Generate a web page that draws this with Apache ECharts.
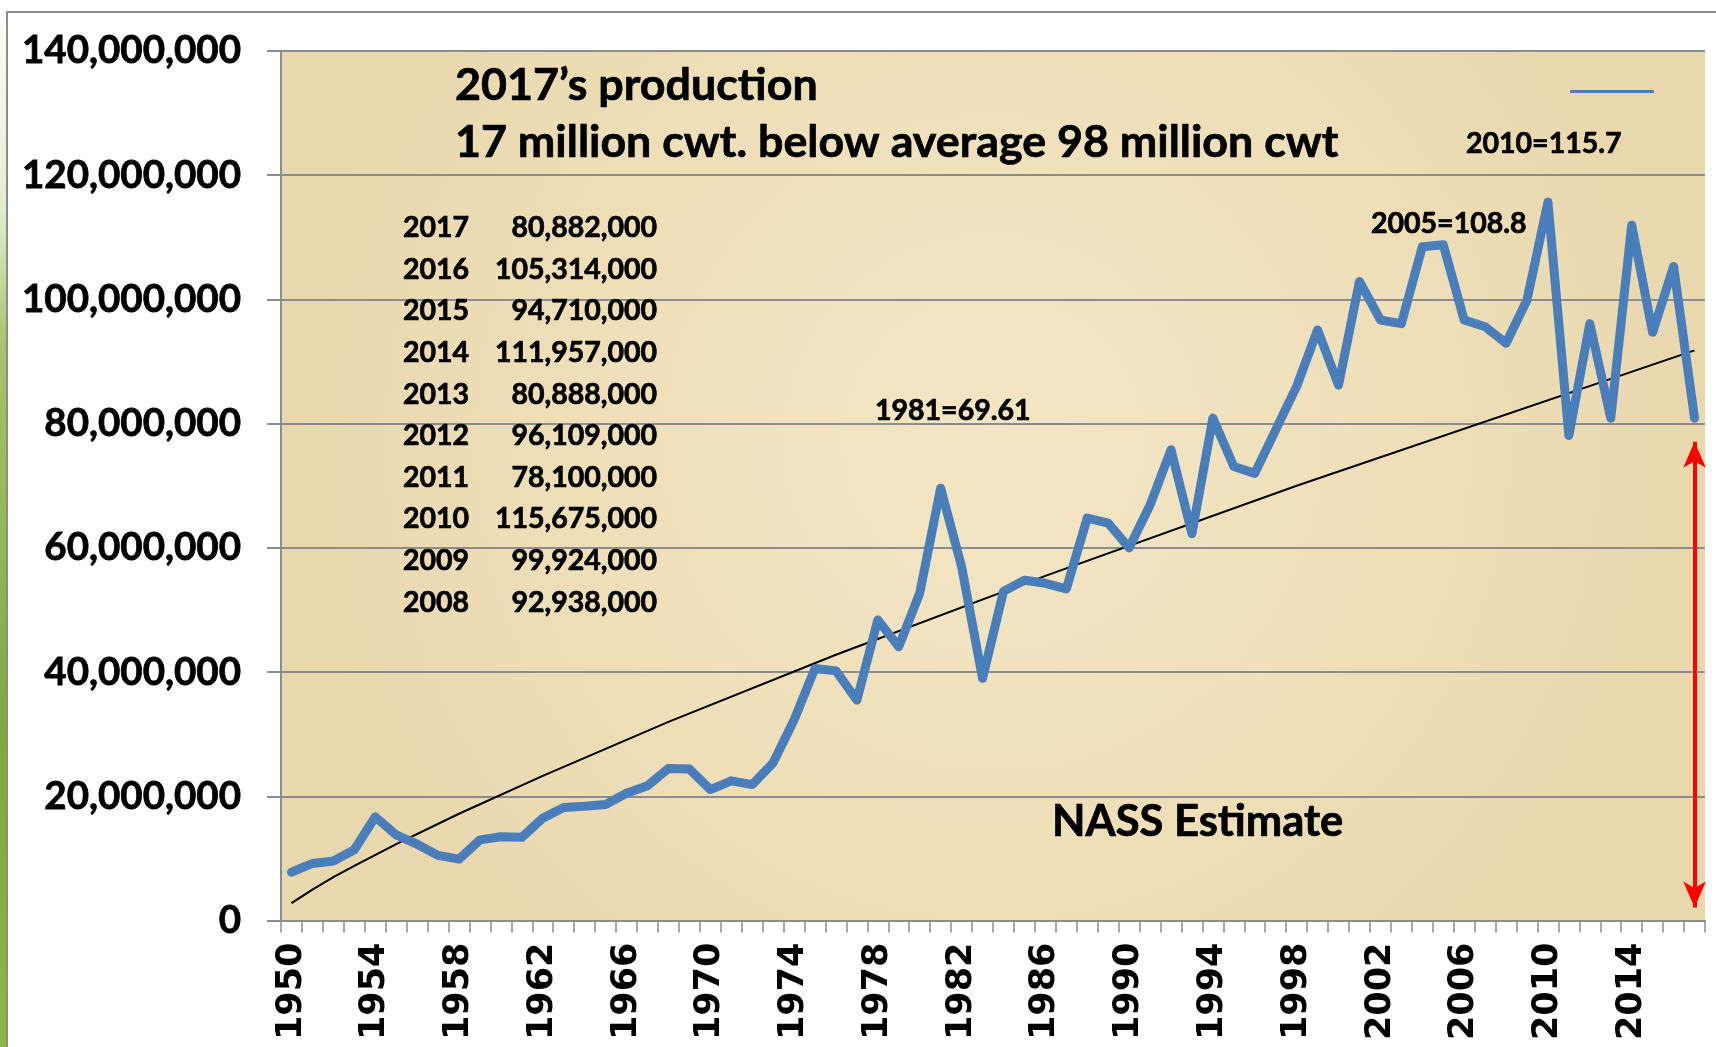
<!DOCTYPE html>
<html><head><meta charset="utf-8">
<script src="https://cdn.jsdelivr.net/npm/echarts@6/dist/echarts.min.js"></script>
<style>html,body{margin:0;padding:0;background:#fff}#c{width:1716px;height:1047px}</style>
</head><body><div id="c"></div>
<script>
const years = ['1950','1951','1952','1953','1954','1955','1956','1957','1958','1959',
'1960','1961','1962','1963','1964','1965','1966','1967','1968','1969',
'1970','1971','1972','1973','1974','1975','1976','1977','1978','1979',
'1980','1981','1982','1983','1984','1985','1986','1987','1988','1989',
'1990','1991','1992','1993','1994','1995','1996','1997','1998','1999',
'2000','2001','2002','2003','2004','2005','2006','2007','2008','2009',
'2010','2011','2012','2013','2014','2015','2016','2017'];
const production = [7800000,9200000,9600000,11400000,16700000,13800000,12300000,10500000,9900000,13000000,
13500000,13400000,16500000,18200000,18400000,18700000,20500000,21700000,24500000,24400000,
21100000,22500000,21900000,25400000,32300000,40600000,40200000,35500000,48400000,44100000,
52700000,69610000,57000000,39000000,53000000,54800000,54300000,53400000,64800000,64000000,
60000000,66900000,75800000,62300000,80900000,73100000,72000000,79000000,86000000,95100000,
86200000,102900000,96700000,96100000,108500000,108800000,96700000,95600000,92938000,99924000,
115675000,78100000,96109000,80888000,111957000,94710000,105314000,80882000];
const trendYears = ['1950','1951','1952','1953','1955','1958','1962','1968','1976','1986','1998','2017'];
const trendValues = [2800000,5000000,7000000,8800000,12300000,17200000,23300000,32000000,42800000,55500000,70000000,91800000];
const tableYears = ['2017','2016','2015','2014','2013','2012','2011','2010','2009','2008'];
const tableValues = ['80,882,000','105,314,000','94,710,000','111,957,000','80,888,000','96,109,000','78,100,000','115,675,000','99,924,000','92,938,000'];
const titleLines = ['2017\u2019s production','17 million cwt. below average 98 million cwt'];
const arrowYear = '2017';
const arrowRange = [77100000, 2100000];

const trendData = years.map(y => { const i = trendYears.indexOf(y); return i >= 0 ? trendValues[i] : null; });

const F = 'Lato, "Open Sans", sans-serif';
function txt(text, x, y, size, align) {
  return { type: 'text', z: 100, style: { text: text, x: x, y: y, font: 'bold ' + size + 'px ' + F, fill: '#000',
    stroke: '#000', lineWidth: 0.7, textAlign: align || 'left', textVerticalAlign: 'middle' } };
}
const graphics = [
  { type: 'rect', z: -1, shape: { x: 0, y: 0, width: 7, height: 1047 },
    style: { fill: { type: 'linear', x: 0, y: 0, x2: 0, y2: 1, colorStops: [
      { offset: 0, color: '#ffffff' }, { offset: 0.2, color: '#e4ecd0' }, { offset: 0.33, color: '#a6c46a' },
      { offset: 0.7, color: '#7fa83f' }, { offset: 1, color: '#8cb54a' }] } } },
  { type: 'rect', z: -1, shape: { x: 7, y: 12, width: 1720, height: 1060 },
    style: { fill: 'none', stroke: '#8c8c8c', lineWidth: 2 } },
];
titleLines.forEach((t, i) => graphics.push(txt(t, 455, 86 + i * 57, 44.8)));
tableYears.forEach((t, i) => {
  graphics.push(txt(t, 403, 228 + i * 41.6, 28.5));
  graphics.push(txt(tableValues[i], 657, 228 + i * 41.6, 28.5, 'right'));
});
graphics.push(txt('1981=69.61', 875, 411, 28.5));
graphics.push(txt('2005=108.8', 1371, 224, 28.5));
graphics.push(txt('2010=115.7', 1466, 144, 28.5));
graphics.push(txt('NASS Estimate', 1052, 822, 43.5));

const chart = echarts.init(document.getElementById('c'), null, { renderer: 'canvas' });
chart.setOption({
  backgroundColor: '#ffffff',
  animation: false,
  graphic: graphics,
  grid: { left: 281, right: 11, top: 51, bottom: 126.4, containLabel: false, show: true,
    backgroundColor: { type: 'radial', x: 0.5, y: 0.45, r: 0.8, colorStops: [
      { offset: 0, color: '#f3e6c4' }, { offset: 0.6, color: '#eedfb9' }, { offset: 1, color: '#e9d8ae' }] },
    borderWidth: 0 },
  legend: { show: true, data: [{ name: 'Production', icon: 'rect' }], left: 1570, top: 90, itemWidth: 84, itemHeight: 3,
    formatter: () => '', selectedMode: false, padding: 0 },
  xAxis: { type: 'category', data: years, boundaryGap: true,
    axisLine: { show: true, lineStyle: { color: '#8c8c8c', width: 2 } },
    axisTick: { show: true, interval: 0, length: 12, lineStyle: { color: '#8c8c8c', width: 1.5 } },
    axisLabel: { interval: 3, rotate: 90, margin: 22, fontFamily: '"DejaVu Sans", Verdana, sans-serif', fontWeight: 'bold', fontSize: 35, color: '#000' },
    splitLine: { show: false } },
  yAxis: { type: 'value', min: 0, max: 140000000, interval: 20000000,
    axisLine: { show: true, lineStyle: { color: '#8c8c8c', width: 2 } },
    axisTick: { show: true, length: 14, lineStyle: { color: '#8c8c8c', width: 2 } },
    axisLabel: { margin: 40, fontFamily: F, fontWeight: 'bold', fontSize: 38.5, color: '#000',
      textBorderColor: '#000', textBorderWidth: 0.8,
      formatter: v => v.toLocaleString('en-US') },
    splitLine: { show: true, lineStyle: { color: '#8c8c8c', width: 2 } } },
  series: [
    { name: 'Production', type: 'line', data: production, symbol: 'none', z: 5,
      lineStyle: { color: '#4a7ebb', width: 9, cap: 'round', join: 'round' }, itemStyle: { color: '#4a7ebb' },
      markLine: { silent: true, symbol: ['arrow', 'arrow'], symbolSize: [17, 26], animation: false,
        lineStyle: { color: '#ff0000', width: 4, type: 'solid' }, label: { show: false },
        data: [[{ coord: [arrowYear, arrowRange[0]] }, { coord: [arrowYear, arrowRange[1]] }]] } },
    { name: 'Trend', type: 'line', data: trendData, connectNulls: true, symbol: 'none', z: 4,
      lineStyle: { color: '#000', width: 2 } }
  ]
});
</script></body></html>
